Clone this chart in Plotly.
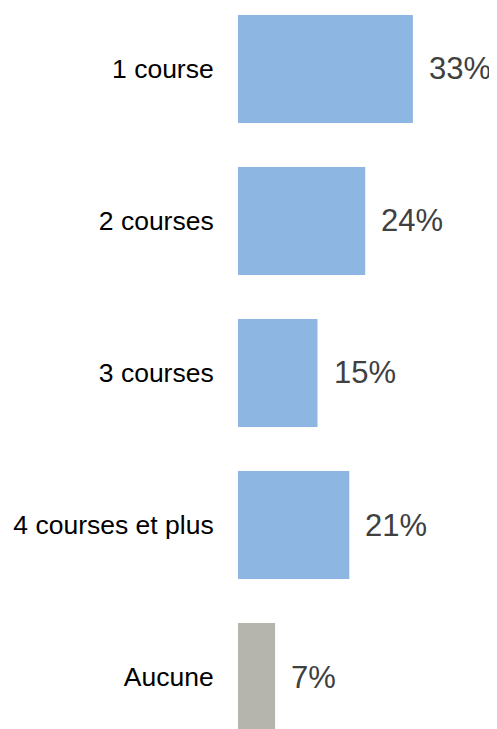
import plotly.graph_objects as go

categories = ["1 course", "2 courses", "3 courses", "4 courses et plus", "Aucune"]
values = [33, 24, 15, 21, 7]
colors = ["#8DB6E2", "#8DB6E2", "#8DB6E2", "#8DB6E2", "#B5B5AD"]
labels = [f"{v}%" for v in values]

pos = list(range(len(categories)))

fig = go.Figure(go.Bar(
    x=values, y=pos, orientation="h",
    marker=dict(color=colors, line=dict(width=0)),
    width=0.71,
    hoverinfo="skip",
))

for v, p, t in zip(values, pos, labels):
    fig.add_annotation(x=v, y=p, text=t, showarrow=False, xanchor="left",
                       xshift=14, font=dict(family="Liberation Sans, Arial", size=31, color="#404040"))

fig.update_layout(
    width=489, height=721,
    margin=dict(l=230, r=0, t=0, b=0),
    plot_bgcolor="white", paper_bgcolor="white",
    showlegend=False,
    xaxis=dict(range=[0, 48.87], visible=False),
    yaxis=dict(range=[4.342, -0.401], tickvals=pos, ticktext=categories,
               showgrid=False, zeroline=False, showline=False,
               ticks="outside", ticklen=18, tickcolor="rgba(0,0,0,0)",
               tickfont=dict(family="Liberation Sans, Arial", size=26.5, color="#000000")),
)

fig.write_html("out.html")
